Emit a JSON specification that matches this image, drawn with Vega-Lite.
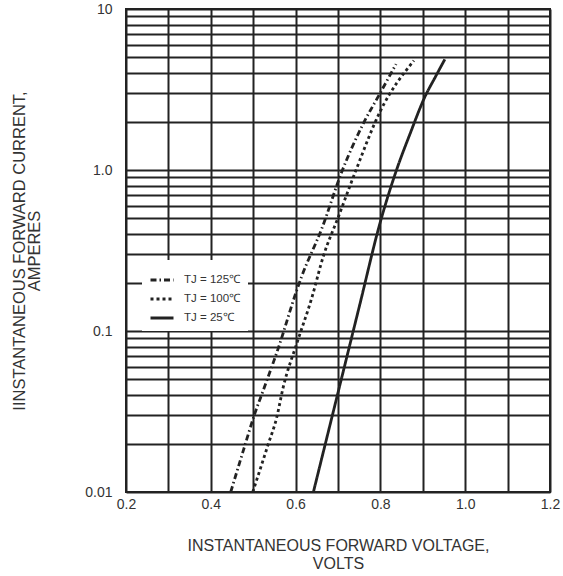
{
  "$schema": "https://vega.github.io/schema/vega-lite/v6.json",
  "width": 424,
  "height": 483,
  "autosize": "none",
  "padding": {"left": 126, "top": 9, "right": 13, "bottom": 84},
  "background": "white",
  "config": {
    "view": {"stroke": "#222", "strokeWidth": 2},
    "font": "Liberation Sans",
    "axis": {
      "labelFont": "Liberation Sans",
      "titleFont": "Liberation Sans",
      "labelFontSize": 14,
      "titleFontWeight": "normal",
      "labelColor": "#333",
      "titleColor": "#333",
      "labelFlush": false,
      "domain": false,
      "ticks": false,
      "grid": true,
      "gridColor": "#222",
      "gridWidth": 2,
      "gridOpacity": 1
    }
  },
  "data": {
    "values": [
      {"v": 0.447, "i": 0.0100, "s": "TJ = 125℃"},
      {"v": 0.477, "i": 0.0182, "s": "TJ = 125℃"},
      {"v": 0.504, "i": 0.0308, "s": "TJ = 125℃"},
      {"v": 0.524, "i": 0.043, "s": "TJ = 125℃"},
      {"v": 0.559, "i": 0.078, "s": "TJ = 125℃"},
      {"v": 0.603, "i": 0.18, "s": "TJ = 125℃"},
      {"v": 0.614, "i": 0.217, "s": "TJ = 125℃"},
      {"v": 0.662, "i": 0.434, "s": "TJ = 125℃"},
      {"v": 0.709, "i": 0.976, "s": "TJ = 125℃"},
      {"v": 0.760, "i": 1.95, "s": "TJ = 125℃"},
      {"v": 0.799, "i": 2.99, "s": "TJ = 125℃"},
      {"v": 0.837, "i": 4.55, "s": "TJ = 125℃"},
      {"v": 0.499, "i": 0.0100, "s": "TJ = 100℃"},
      {"v": 0.536, "i": 0.020, "s": "TJ = 100℃"},
      {"v": 0.555, "i": 0.0287, "s": "TJ = 100℃"},
      {"v": 0.571, "i": 0.045, "s": "TJ = 100℃"},
      {"v": 0.603, "i": 0.084, "s": "TJ = 100℃"},
      {"v": 0.638, "i": 0.160, "s": "TJ = 100℃"},
      {"v": 0.665, "i": 0.289, "s": "TJ = 100℃"},
      {"v": 0.701, "i": 0.513, "s": "TJ = 100℃"},
      {"v": 0.740, "i": 0.96, "s": "TJ = 100℃"},
      {"v": 0.799, "i": 2.30, "s": "TJ = 100℃"},
      {"v": 0.879, "i": 4.78, "s": "TJ = 100℃"},
      {"v": 0.642, "i": 0.0100, "s": "TJ = 25℃"},
      {"v": 0.700, "i": 0.0414, "s": "TJ = 25℃"},
      {"v": 0.750, "i": 0.141, "s": "TJ = 25℃"},
      {"v": 0.799, "i": 0.467, "s": "TJ = 25℃"},
      {"v": 0.838, "i": 1.0, "s": "TJ = 25℃"},
      {"v": 0.870, "i": 1.68, "s": "TJ = 25℃"},
      {"v": 0.905, "i": 2.85, "s": "TJ = 25℃"},
      {"v": 0.930, "i": 3.8, "s": "TJ = 25℃"},
      {"v": 0.952, "i": 4.87, "s": "TJ = 25℃"}
    ]
  },
  "mark": {"type": "line", "color": "#222", "strokeWidth": 2.8, "strokeCap": "butt", "interpolate": "monotone", "clip": true},
  "encoding": {
    "x": {
      "field": "v",
      "type": "quantitative",
      "scale": {"domain": [0.2, 1.2], "nice": false, "zero": false},
      "axis": {
        "values": [0.2, 0.3, 0.4, 0.5, 0.6, 0.7, 0.8, 0.9, 1.0, 1.1, 1.2],
        "labelExpr": "round(datum.value*10)%2==0 ? format(datum.value,'.1f') : ''",
        "labelPadding": 5,
        "title": ["INSTANTANEOUS FORWARD VOLTAGE,", "VOLTS"],
        "titleFontSize": 16,
        "titleLineHeight": 18,
        "titlePadding": 26
      }
    },
    "y": {
      "field": "i",
      "type": "quantitative",
      "scale": {"type": "log", "domain": [0.01, 10], "nice": false},
      "axis": {
        "values": [0.01, 0.02, 0.03, 0.04, 0.05, 0.06, 0.07, 0.08, 0.09, 0.1, 0.2, 0.3, 0.4, 0.5, 0.6, 0.7, 0.8, 0.9, 1, 2, 3, 4, 5, 6, 7, 8, 9, 10],
        "labelExpr": "datum.value==0.01 ? '0.01' : datum.value==0.1 ? '0.1' : datum.value==1 ? '1.0' : datum.value==10 ? '10' : ''",
        "labelPadding": 14,
        "title": ["IINSTANTANEOUS FORWARD CURRENT,", "AMPERES"],
        "titleFontSize": 16.5,
        "titleLineHeight": 15,
        "titlePadding": 42
      }
    },
    "strokeDash": {
      "field": "s",
      "type": "nominal",
      "scale": {
        "domain": ["TJ = 125℃", "TJ = 100℃", "TJ = 25℃"],
        "range": [[6, 3, 1.5, 3], [3, 3], [1, 0]]
      },
      "legend": {
        "title": null,
        "orient": "none",
        "legendX": 16,
        "legendY": 251,
        "fillColor": "white",
        "padding": 7,
        "symbolType": "stroke",
        "symbolSize": 529,
        "symbolStrokeWidth": 2.8,
        "symbolStrokeColor": "#222",
        "labelFont": "Liberation Sans",
        "labelFontSize": 11.5,
        "labelColor": "#333",
        "labelOffset": 9,
        "rowPadding": -8.5
      }
    }
  }
}
